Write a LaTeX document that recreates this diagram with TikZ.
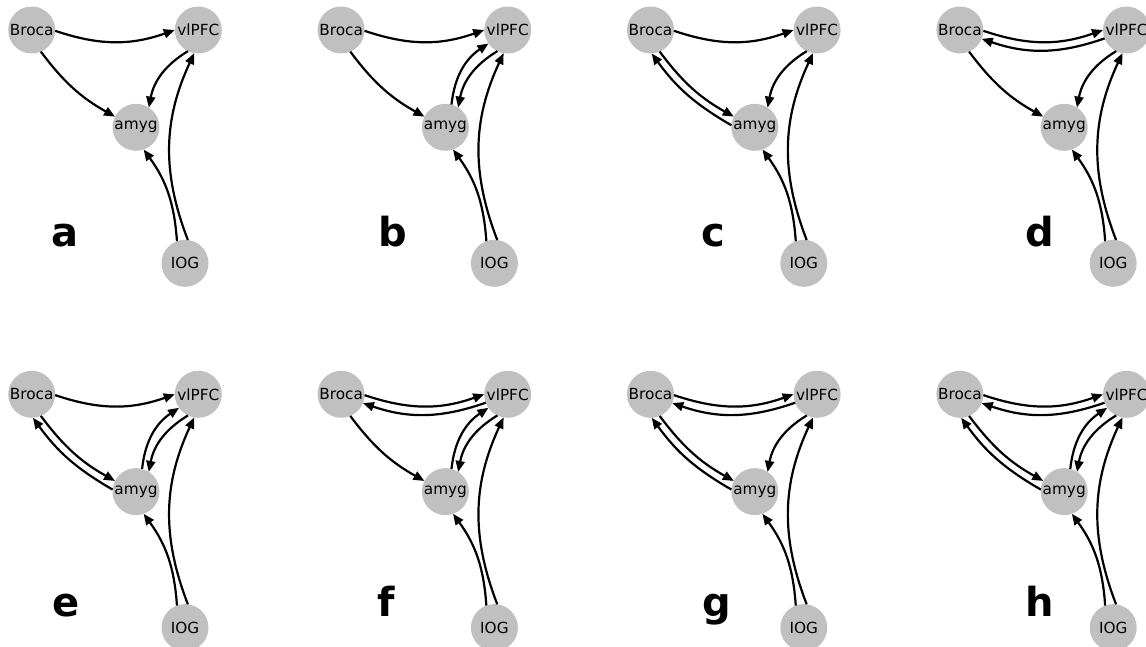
\documentclass[tikz,border=0pt]{standalone}
\usepackage{fontspec}
\setmainfont{DejaVu Sans}
\usetikzlibrary{arrows.meta}
\definecolor{nodegray}{HTML}{C0C0C0}
\tikzset{
  brainnode/.style={circle, fill=nodegray, minimum size=47pt, inner sep=0pt, outer sep=0pt,
    font=\fontsize{15.3}{18}\selectfont},
  edge/.style={line width=2.2pt, -{Triangle[length=11pt,width=9pt]}},
  panellabel/.style={anchor=base, inner sep=0pt, font=\fontsize{40}{48}\selectfont\bfseries},
}
\newcommand\mknodes[3]{%
  \node[brainnode] (#1B) at ({#2+31.7},{#3+30}) {Broca};
  \node[brainnode] (#1V) at ({#2+198.3},{#3+30}) {vlPFC};
  \node[brainnode] (#1A) at ({#2+136},{#3+127.3}) {amyg};
  \node[brainnode] (#1I) at ({#2+185},{#3+263.3}) {IOG};
}
\newcommand\eBV[1]{\draw[edge] (#1B.-2) to[bend right=19] (#1V.180);}
\newcommand\eVB[1]{\draw[edge] (#1V.201) to[bend left=19] (#1B.-22);}
\newcommand\eBA[1]{\draw[edge] (#1B.-67) to[bend right=12] (#1A.153);}
\newcommand\eAB[1]{\draw[edge] (#1A.175) to[bend left=12] (#1B.-87);}
\newcommand\eVA[1]{\draw[edge] (#1V.244) to[bend right=24] (#1A.57);}
\newcommand\eAV[1]{\draw[edge] (#1A.75) to[bend left=25] (#1V.215);}
\newcommand\eIA[1]{\draw[edge] (#1I.110) to[bend right=16] (#1A.-71);}
\newcommand\eIV[1]{\draw[edge] (#1I.83) to[bend left=23] (#1V.-100);}
\begin{document}
\begin{tikzpicture}[x=1pt,y=-1pt]
\useasboundingbox (0,0) rectangle (1146,646);
% panel a
\mknodes{a}{0}{0}
\eBV{a}\eBA{a}\eVA{a}\eIA{a}\eIV{a}
\node[panellabel] (la) at (65,246.5) {a};
% panel b
\mknodes{b}{309.4}{0}
\eBV{b}\eBA{b}\eVA{b}\eAV{b}\eIA{b}\eIV{b}
\node[panellabel] (lb) at (392.5,246.5) {b};
% panel c
\mknodes{c}{618.8}{0}
\eBV{c}\eBA{c}\eAB{c}\eVA{c}\eIA{c}\eIV{c}
\node[panellabel] (lc) at (713,246.5) {c};
% panel d
\mknodes{d}{928.2}{0}
\eBV{d}\eVB{d}\eBA{d}\eVA{d}\eIA{d}\eIV{d}
\node[panellabel] (ld) at (1039.5,246.5) {d};
% panel e
\mknodes{e}{0}{364.3}
\eBV{e}\eBA{e}\eAB{e}\eVA{e}\eAV{e}\eIA{e}\eIV{e}
\node[panellabel] (le) at (66.3,616.5) {e};
% panel f
\mknodes{f}{309.4}{364.3}
\eBV{f}\eVB{f}\eBA{f}\eVA{f}\eAV{f}\eIA{f}\eIV{f}
\node[panellabel] (lf) at (386.3,616.5) {f};
% panel g
\mknodes{g}{618.8}{364.3}
\eBV{g}\eVB{g}\eBA{g}\eAB{g}\eVA{g}\eIA{g}\eIV{g}
\node[panellabel] (lg) at (716.7,616.5) {g};
% panel h
\mknodes{h}{928.2}{364.3}
\eBV{h}\eVB{h}\eBA{h}\eAB{h}\eVA{h}\eAV{h}\eIA{h}\eIV{h}
\node[panellabel] (lh) at (1040,616.5) {h};
\end{tikzpicture}
\end{document}
